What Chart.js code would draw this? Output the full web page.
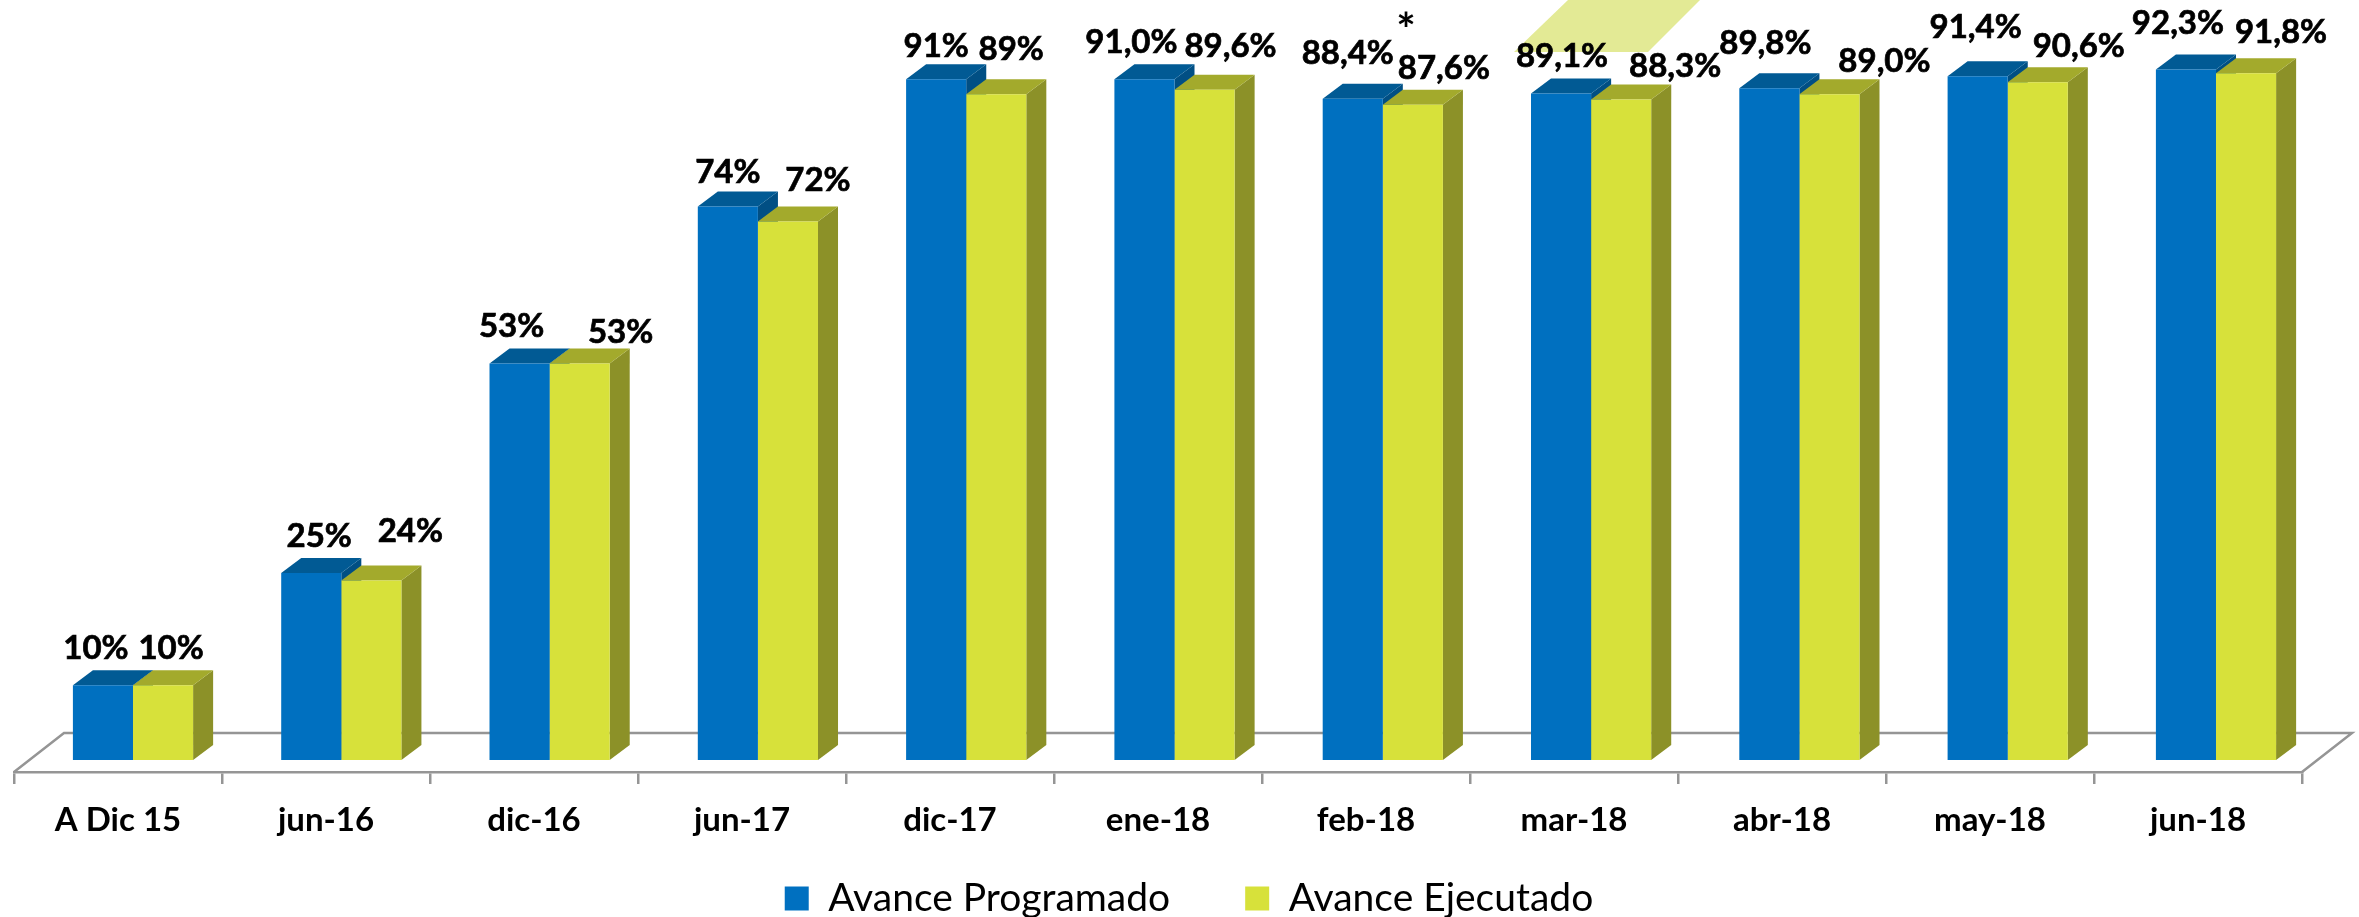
<!DOCTYPE html>
<html>
<head>
<meta charset="utf-8">
<title>Avance</title>
<script src="https://cdn.jsdelivr.net/npm/chart.js@4/dist/chart.umd.min.js"></script>
<style>
    html, body { margin: 0; padding: 0; background: #fff; }
    canvas { display: block; }
</style>
</head>
<body>
<canvas id="avance-chart" width="2359" height="917"></canvas>
<script>
const categories = ["A Dic 15", "jun-16", "dic-16", "jun-17", "dic-17", "ene-18", "feb-18", "mar-18", "abr-18", "may-18", "jun-18"];
const programado = [10, 25, 53, 74, 91, 91.0, 88.4, 89.1, 89.8, 91.4, 92.3];
const ejecutado = [10, 24, 53, 72, 89, 89.6, 87.6, 88.3, 89.0, 90.6, 91.8];
const programadoText = ["10%", "25%", "53%", "74%", "91%", "91,0%", "88,4%", "89,1%", "89,8%", "91,4%", "92,3%"];
const ejecutadoText = ["10%", "24%", "53%", "72%", "89%", "89,6%", "87,6%", "88,3%", "89,0%", "90,6%", "91,8%"];

// Hand placed labels in the original, offset of the label centre from the bar top
const labelOffsets = [
    [[-7, -37], [8, -37], [-8, -37], [0, -34], [0, -33], [-13, -37], [-5, -45], [1, -37], [-4, -45], [-2, -49], [-8, -46]],
    [[8, -37], [39, -49], [41, -31], [30, -41], [15, -45], [26, -43], [31, -36], [54, -33], [55, -33], [41, -36], [35, -41]]
];
const valueTexts = [programadoText, ejecutadoText];

// Fake 3D look
const depthX = 20;
const depthY = 15;
const barStretch = 1.00144;
const barShift = 14.83;
const frontColors = ["#0070C0", "#D7E13A"];
const topColors = ["#015A94", "#A3AA2C"];
const sideColors = ["#014F84", "#8C9128"];
const floorColor = "#959595";

let fillShape = (ctx, color, points) => {
    ctx.fillStyle = color;
    ctx.beginPath();
    points.forEach((p, i) => i ? ctx.lineTo(p[0], p[1]) : ctx.moveTo(p[0], p[1]));
    ctx.closePath();
    ctx.fill();
};

const floorPlugin = {
    id: "floor",
    beforeDatasetsDraw(chart) {
        const { ctx, chartArea } = chart;
        // Pale shape sitting behind the mar-18 label
        fillShape(ctx, "#E3EA95", [[1568, 0], [1700, 0], [1648, 52], [1514, 52]]);

        ctx.save();
        ctx.strokeStyle = floorColor;
        ctx.lineWidth = 2.5;
        ctx.beginPath();
        ctx.moveTo(chartArea.left, chartArea.bottom);
        ctx.lineTo(chartArea.left + 50, chartArea.bottom - 39);
        ctx.lineTo(chartArea.right + 50, chartArea.bottom - 39);
        ctx.lineTo(chartArea.right, chartArea.bottom);
        ctx.stroke();
        ctx.restore();
    }
};

const barsPlugin = {
    id: "bars3d",
    afterLayout(chart) {
        // The legend sits a bit right of the page centre, and reaches above its own box
        chart.legend.left += 31;
        chart.legend.right += 31;
        chart.legend.top -= 48;
    },
    beforeDatasetsDraw(chart) {
        // Side and top faces go first, blue then yellow, so the fronts cover them
        const ctx = chart.ctx;
        ctx.save();
        ctx.transform(barStretch, 0, 0, 1, barShift, 0);
        [0, 1].forEach(d => {
            chart.getDatasetMeta(d).data.forEach(bar => {
                const left = bar.x - bar.width / 2;
                const right = bar.x + bar.width / 2;
                fillShape(ctx, sideColors[d], [[right, bar.y], [right + depthX, bar.y - depthY], [right + depthX, bar.base - depthY], [right, bar.base]]);
                fillShape(ctx, topColors[d], [[left, bar.y], [left + depthX, bar.y - depthY], [right + depthX, bar.y - depthY], [right, bar.y]]);
            });
        });
        ctx.restore();
    },
    beforeDatasetDraw(chart) {
        chart.ctx.save();
        chart.ctx.transform(barStretch, 0, 0, 1, barShift, 0);
    },
    afterDatasetDraw(chart) {
        chart.ctx.restore();
    },
    afterDatasetsDraw(chart) {
        const ctx = chart.ctx;
        ctx.save();
        ctx.fillStyle = "#000";
        ctx.strokeStyle = "#000";
        ctx.lineWidth = 0.7;
        ctx.font = "bold 33px Lato";
        ctx.textAlign = "center";
        ctx.textBaseline = "middle";
        valueTexts.forEach((texts, d) => {
            chart.getDatasetMeta(d).data.forEach((bar, i) => {
                const x = bar.x * barStretch + barShift + labelOffsets[d][i][0];
                const y = bar.y + labelOffsets[d][i][1];
                ctx.fillText(texts[i], x, y);
                ctx.strokeText(texts[i], x, y);
            });
        });
        // Footnote mark above feb-18
        ctx.font = "bold 46px Lato";
        ctx.fillText("*", 1406, 31);
        ctx.restore();
    }
};

let config = {
    type: "bar",
    data: {
        labels: categories,
        datasets: [
            { label: "Avance Programado", data: programado, backgroundColor: frontColors[0], clip: false },
            { label: "Avance Ejecutado", data: ejecutado, backgroundColor: frontColors[1], clip: false }
        ]
    },
    options: {
        responsive: false,
        animation: false,
        layout: {
            padding: { left: 14, right: 57, top: 12, bottom: 0 }
        },
        categoryPercentage: 0.577,
        barPercentage: 1,
        plugins: {
            tooltip: { enabled: false },
            legend: {
                position: "bottom",
                maxHeight: 65,
                labels: {
                    boxWidth: 24,
                    boxHeight: 24,
                    padding: 75,
                    color: "#000",
                    font: { family: "Lato", size: 39 }
                }
            }
        },
        scales: {
            y: { display: false, min: -1.6, max: 100 },
            x: {
                afterFit: scale => { scale.height = 80; },
                grid: { drawOnChartArea: false, color: floorColor, lineWidth: 2.5, tickLength: 12 },
                border: { color: floorColor, width: 2.5 },
                ticks: {
                    color: "#000",
                    padding: 17,
                    maxRotation: 0,
                    autoSkip: false,
                    font: { family: "Lato", size: 33, weight: "bold" }
                }
            }
        }
    },
    plugins: [floorPlugin, barsPlugin]
};

new Chart(document.getElementById("avance-chart"), config);
</script>
</body>
</html>
